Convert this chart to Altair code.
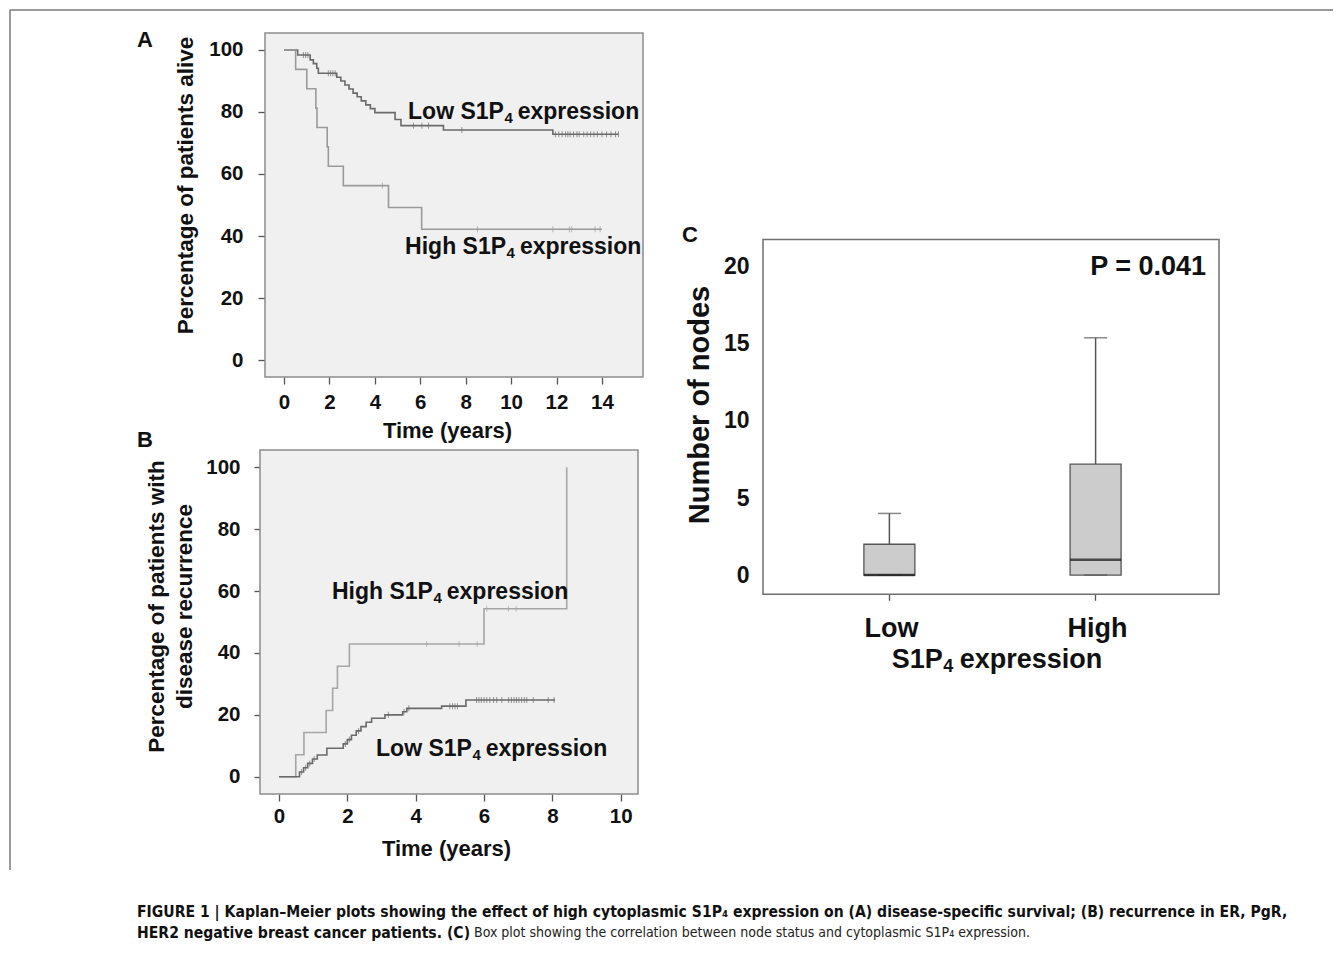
import altair as alt
import pandas as pd

W, H = 1325, 934
FONT = "Liberation Sans, Arial, Helvetica, sans-serif"
CAPFONT = "Liberation Sans Narrow, DejaVu Sans Condensed, Liberation Sans, sans-serif"
INK = "#111111"

# ---------------- Panel A : disease-specific survival ----------------
A_low_t = [0, 0.60, 1.15, 1.29, 1.44, 1.51, 2.32, 2.50, 2.68, 2.86, 3.04, 3.22, 3.40, 3.60, 3.80, 4.00, 4.89, 5.15, 7.02, 11.84, 14.73]
A_low_v = [100, 98.4, 96.8, 95.6, 94.1, 92.5, 91.2, 90.0, 88.7, 87.4, 86.1, 84.9, 83.6, 82.3, 81.1, 79.8, 77.6, 75.6, 74.2, 72.8, 72.8]
A_low_cens_t = [0.85, 0.95, 1.05, 1.95, 2.05, 2.15, 2.25, 5.70, 6.07, 6.36, 7.83,
                11.95, 12.1, 12.25, 12.4, 12.5, 12.6, 12.75, 12.9, 13.0, 13.2, 13.35, 13.5, 13.65, 13.8, 14.0, 14.2, 14.4, 14.6, 14.73]
A_low_cens_v = [98.4, 98.4, 98.4, 92.5, 92.5, 92.5, 92.5, 75.6, 75.6, 75.6, 74.2,
                72.8, 72.8, 72.8, 72.8, 72.8, 72.8, 72.8, 72.8, 72.8, 72.8, 72.8, 72.8, 72.8, 72.8, 72.8, 72.8, 72.8, 72.8, 72.8]
A_high_t = [0, 0.51, 1.00, 1.40, 1.45, 1.90, 1.95, 2.61, 4.60, 6.06, 14.0]
A_high_v = [100, 93.75, 87.5, 81.25, 75.0, 68.75, 62.5, 56.25, 49.2, 42.2, 42.2]
A_high_cens_t = [4.33, 8.52, 11.84, 12.57, 12.67, 13.70, 13.92]
A_high_cens_v = [56.25, 42.2, 42.2, 42.2, 42.2, 42.2, 42.2]
A_label_head = ["Low S1P", "High S1P"]
A_label_sub = ["4", "4"]
A_label_tail = ["expression", "expression"]
A_label_t = [5.46, 5.33]
A_label_v = [80.0, 36.5]
A_xticks = [0, 2, 4, 6, 8, 10, 12, 14]
A_yticks = [0, 20, 40, 60, 80, 100]
A_xdom = [-0.84, 15.81]
A_ydom = [-5.48, 105.48]

# ---------------- Panel B : recurrence ----------------
B_high_t = [0, 0.49, 0.73, 1.38, 1.57, 1.71, 2.06, 6.00, 8.42]
B_high_v = [0, 7.1, 14.3, 21.4, 28.6, 35.7, 42.9, 54.3, 100]
B_high_cens_t = [4.32, 5.27, 5.80, 6.08, 6.71, 6.94]
B_high_cens_v = [42.9, 42.9, 42.9, 54.3, 54.3, 54.3]
B_low_t = [0, 0.60, 0.72, 0.84, 0.98, 1.12, 1.40, 1.88, 2.00, 2.12, 2.26, 2.40, 2.55, 2.71, 3.10, 3.62, 3.74, 4.76, 5.47, 8.08]
B_low_v = [0, 1.5, 2.9, 4.3, 5.7, 7.0, 9.2, 10.6, 12.0, 13.4, 14.8, 16.2, 17.6, 18.9, 20.0, 21.0, 22.1, 22.8, 24.8, 24.8]
B_low_cens_t = [0.66, 0.78, 0.90, 1.03, 1.94, 2.06, 2.33, 3.20, 3.66, 3.80, 5.00, 5.08, 5.15, 5.22,
                5.78, 5.85, 5.92, 6.00, 6.08, 6.17, 6.28, 6.37, 6.52, 6.72, 6.80, 6.88, 6.95, 7.02, 7.10, 7.18, 7.25, 7.44, 7.88, 8.05]
B_low_cens_v = [1.5, 2.9, 4.3, 5.7, 10.6, 12.0, 14.8, 20.0, 21.0, 22.1, 22.8, 22.8, 22.8, 22.8,
                24.8, 24.8, 24.8, 24.8, 24.8, 24.8, 24.8, 24.8, 24.8, 24.8, 24.8, 24.8, 24.8, 24.8, 24.8, 24.8, 24.8, 24.8, 24.8, 24.8]
B_label_head = ["High S1P", "Low S1P"]
B_label_sub = ["4", "4"]
B_label_tail = ["expression", "expression"]
B_label_t = [1.55, 2.84]
B_label_v = [59.7, 9.0]
B_xticks = [0, 2, 4, 6, 8, 10]
B_yticks = [0, 20, 40, 60, 80, 100]
B_xdom = [-0.556, 10.506]
B_ydom = [-5.59, 105.6]

# ---------------- Panel C : box plot ----------------
C_groups = ["Low", "High"]
C_min = [0, 0]
C_q1 = [0, 0]
C_median = [0, 1]
C_q3 = [2, 7.2]
C_max = [4, 15.4]
C_yticks = [0, 5, 10, 15, 20]
C_ydom = [-1.25, 21.78]
C_pvalue = "P = 0.041"
C_xtitle = ("S1P", "4", "expression")

CAPTION_1 = ("FIGURE 1 | Kaplan\u2013Meier plots showing the effect of high cytoplasmic S1P\u2084 expression "
             "on (A) disease-specific survival; (B) recurrence in ER, PgR,")
CAPTION_2B = "HER2 negative breast cancer patients. (C)"
CAPTION_2R = "Box plot showing the correlation between node status and cytoplasmic S1P\u2084 expression."

# Arial/Liberation Sans Bold advance widths (em) for the label glyphs
_BOLD_EM = {"L": 0.611, "o": 0.611, "w": 0.778, " ": 0.278, "S": 0.667, "1": 0.556, "P": 0.667,
            "H": 0.722, "i": 0.278, "g": 0.611, "h": 0.611, "4": 0.556, "e": 0.556, "x": 0.556,
            "p": 0.611, "r": 0.389, "s": 0.556, "n": 0.611}
LBL_SIZE = 23
SUB_SIZE = 15


def text_w(s, size):
    return sum(_BOLD_EM.get(c, 0.6) for c in s) * size


def km_panel(xdom, xrange, ydom, yrange, xaxis, yaxis, series, labels, bg):
    xs = alt.Scale(domain=xdom, range=xrange, nice=False, zero=False)
    ys = alt.Scale(domain=ydom, range=yrange, nice=False, zero=False)

    def X(f):
        return alt.X(f, type="quantitative", scale=xs, axis=xaxis)

    def Y(f):
        return alt.Y(f, type="quantitative", scale=ys, axis=yaxis)

    frame = alt.Chart(pd.DataFrame({"x0": [xdom[0]], "x1": [xdom[1]], "y0": [ydom[0]], "y1": [ydom[1]]})).mark_rect(
        fill=bg, stroke="#8c8c8c", strokeWidth=1.5
    ).encode(x=X("x0"), x2="x1", y=Y("y0"), y2="y1")
    layers = [frame]
    for (t, v, ct, cv, color) in series:
        df = pd.DataFrame({"t": t, "v": v})
        layers.append(
            alt.Chart(df).mark_line(interpolate="step-after", color=color, strokeWidth=1.6).encode(
                x=X("t"), y=Y("v"), order="t:Q")
        )
        dfc = pd.DataFrame({"t": ct, "v": cv})
        layers.append(
            alt.Chart(dfc).mark_tick(orient="vertical", size=6, thickness=1, color=color).encode(
                x=X("t"), y=Y("v"))
        )
    lab_t, lab_v, heads, subs, tails = labels
    for t, v, hd, sb, tl in zip(lab_t, lab_v, heads, subs, tails):
        d = pd.DataFrame({"t": [t], "v": [v], "head": [hd], "sub": [sb], "tail": [tl]})
        w_head = text_w(hd, LBL_SIZE)
        w_sub = text_w(sb, SUB_SIZE)
        base = dict(align="left", baseline="middle", font=FONT, fontWeight="bold", color=INK)
        layers.append(alt.Chart(d).mark_text(fontSize=LBL_SIZE, **base).encode(
            x=X("t"), y=Y("v"), text="head:N"))
        layers.append(alt.Chart(d).mark_text(fontSize=SUB_SIZE, dx=w_head + 0.5, dy=6, **base).encode(
            x=X("t"), y=Y("v"), text="sub:N"))
        layers.append(alt.Chart(d).mark_text(fontSize=LBL_SIZE, dx=w_head + w_sub + 5.5, **base).encode(
            x=X("t"), y=Y("v"), text="tail:N"))
    return alt.layer(*layers)


def lin_axis(orient, offset, values, tick, pad, title, tx, ty, tsize=22, angle=0, lh=None):
    kw = dict(orient=orient, offset=offset, values=values, domain=False, grid=False, ticks=True,
              tickSize=tick, tickColor="#555555", tickWidth=1.3, labelFont=FONT, labelFontSize=20.5,
              labelFontWeight="bold", labelColor=INK, labelPadding=pad, labelFlush=False,
              labelOverlap=False, labelAngle=0, format="d", title=title, titleFont=FONT,
              titleFontSize=tsize, titleFontWeight="bold", titleColor=INK, titleX=tx, titleY=ty,
              titleAngle=angle, titleAlign="center", titleBaseline="middle")
    if lh is not None:
        kw["titleLineHeight"] = lh
    return alt.Axis(**kw)


# Panel A (chart coords = page - 8)
axA_x = lin_axis("bottom", 369 - H, A_xticks, 7, 8, "Time (years)", 439, 53)
axA_y = lin_axis("left", -257, A_yticks, 7, 15, "Percentage of patients alive", -80, 177, tsize=22.5, angle=270)
panelA = km_panel(A_xdom, [257, 635], A_ydom, [369, 25], axA_x, axA_y,
                  [(A_low_t, A_low_v, A_low_cens_t, A_low_cens_v, "#6a6a6a"),
                   (A_high_t, A_high_v, A_high_cens_t, A_high_cens_v, "#9a9a9a")],
                  (A_label_t, A_label_v, A_label_head, A_label_sub, A_label_tail), "#f0f0f0")

# Panel B
axB_x = lin_axis("bottom", 786 - H, B_xticks, 7, 5, "Time (years)", 438, 54)
axB_y = lin_axis("left", -252, B_yticks, 6, 14, ["Percentage of patients with", "disease recurrence"],
                 -104, 598, tsize=22.5, angle=270, lh=28)
panelB = km_panel(B_xdom, [252, 630], B_ydom, [786, 442], axB_x, axB_y,
                  [(B_high_t, B_high_v, B_high_cens_t, B_high_cens_v, "#a6a6a6"),
                   (B_low_t, B_low_v, B_low_cens_t, B_low_cens_v, "#6a6a6a")],
                  (B_label_t, B_label_v, B_label_head, B_label_sub, B_label_tail), "#f0f0f0")

# Panel C
xC = alt.Scale(type="band", domain=C_groups, range=[756.5, 1212.5], paddingInner=0.7527, paddingOuter=0.482)
yC = alt.Scale(domain=C_ydom, range=[586.3, 231.5], nice=False, zero=False)
axC_x = alt.Axis(orient="bottom", offset=586.3 - H, domain=False, grid=False, ticks=True, tickSize=6,
                 tickColor="#555555", tickWidth=1.3, labelFont=FONT, labelFontSize=27, labelFontWeight="bold",
                 labelColor=INK, labelPadding=15, labelAngle=0, labelOffset=2, title=None)
axC_y = alt.Axis(orient="left", offset=-755, values=C_yticks, domain=False, grid=False, ticks=False, tickSize=0,
                 labelFont=FONT, labelFontSize=23, labelFontWeight="bold", labelColor=INK, labelPadding=14,
                 labelFlush=False, labelOverlap=False, title="Number of nodes", titleFont=FONT, titleFontSize=29,
                 titleFontWeight="bold", titleColor=INK, titleX=-64, titleY=396.5, titleAngle=270,
                 titleAlign="center", titleBaseline="middle")
dfC = pd.DataFrame({"g": C_groups, "mn": C_min, "q1": C_q1, "med": C_median, "q3": C_q3, "mx": C_max})
XC = alt.X("g:N", scale=xC, axis=axC_x, sort=C_groups)


def YC(f):
    return alt.Y(f, type="quantitative", scale=yC, axis=axC_y)


frameC = alt.Chart(pd.DataFrame({"a": [0]})).mark_rect(fill="white", stroke="#707070", strokeWidth=1.5).encode(
    x=alt.value(755), x2=alt.value(1211), y=alt.value(231.5), y2=alt.value(586.3))
whisk = alt.Chart(dfC).mark_rule(color="#555555", strokeWidth=1.5).encode(x=XC, y=YC("q3"), y2="mx")
boxes = alt.Chart(dfC).mark_bar(fill="#cccccc", stroke="#555555", strokeWidth=1.3).encode(x=XC, y=YC("q1"), y2="q3")
caps_hi = alt.Chart(dfC).mark_tick(orient="horizontal", size=23, thickness=1.5, color="#555555").encode(x=XC, y=YC("mx"))
caps_lo = alt.Chart(dfC).mark_tick(orient="horizontal", size=23, thickness=1.5, color="#555555").encode(x=XC, y=YC("mn"))
medians = alt.Chart(dfC).mark_tick(orient="horizontal", size=51, thickness=2.5, color="#111111").encode(x=XC, y=YC("med"))
ptext = alt.Chart(pd.DataFrame({"label": [C_pvalue]})).mark_text(
    align="right", baseline="middle", font=FONT, fontSize=27, fontWeight="bold", color=INK
).encode(x=alt.value(1198), y=alt.value(259.3), text="label:N")

# x-axis title of panel C with a true subscript
CT_SIZE, CT_SUB = 27, 18
ct_w = text_w(C_xtitle[0], CT_SIZE) + text_w(C_xtitle[1], CT_SUB) + 7 + text_w(C_xtitle[2], CT_SIZE)
ct_x0 = 989 - ct_w / 2
ct_y = 652
ct_base = dict(align="left", baseline="middle", font=FONT, fontWeight="bold", color=INK)
ctitle = pd.DataFrame({"a": [C_xtitle[0]], "b": [C_xtitle[1]], "c": [C_xtitle[2]]})
ct1 = alt.Chart(ctitle).mark_text(fontSize=CT_SIZE, **ct_base).encode(
    x=alt.value(ct_x0), y=alt.value(ct_y), text="a:N")
ct2 = alt.Chart(ctitle).mark_text(fontSize=CT_SUB, dy=7, **ct_base).encode(
    x=alt.value(ct_x0 + text_w(C_xtitle[0], CT_SIZE) + 0.5), y=alt.value(ct_y), text="b:N")
ct3 = alt.Chart(ctitle).mark_text(fontSize=CT_SIZE, **ct_base).encode(
    x=alt.value(ct_x0 + text_w(C_xtitle[0], CT_SIZE) + text_w(C_xtitle[1], CT_SUB) + 7),
    y=alt.value(ct_y), text="c:N")
panelC = alt.layer(frameC, whisk, boxes, caps_lo, caps_hi, medians, ptext, ct1, ct2, ct3)

# Figure frame, panel letters, caption
one = pd.DataFrame({"a": [0]})
frame_left = alt.Chart(one).mark_rule(color="#7a7a7a", strokeWidth=1.5).encode(
    x=alt.value(2), y=alt.value(2), y2=alt.value(862))
frame_top = alt.Chart(one).mark_rule(color="#7a7a7a", strokeWidth=1.5).encode(
    x=alt.value(2), x2=alt.value(W), y=alt.value(2))
letters = alt.Chart(pd.DataFrame({"L": ["A", "B", "C"], "px": [137, 137, 682], "py": [32, 432, 227]})).mark_text(
    font=FONT, fontSize=22, fontWeight="bold", color=INK, align="center", baseline="middle"
).encode(x=alt.X("px:Q", scale=None), y=alt.Y("py:Q", scale=None), text="L:N")
cap1 = alt.Chart(pd.DataFrame({"s": [CAPTION_1]})).mark_text(
    font=CAPFONT, fontSize=15.6, fontWeight="bold", color=INK, align="left", baseline="middle"
).encode(x=alt.value(129), y=alt.value(904), text="s:N")
cap2b = alt.Chart(pd.DataFrame({"s": [CAPTION_2B]})).mark_text(
    font=CAPFONT, fontSize=15.6, fontWeight="bold", color=INK, align="left", baseline="middle"
).encode(x=alt.value(129), y=alt.value(925), text="s:N")
cap2r = alt.Chart(pd.DataFrame({"s": [CAPTION_2R]})).mark_text(
    font=CAPFONT, fontSize=14, fontWeight="normal", color="#222222", align="left", baseline="middle"
).encode(x=alt.value(466), y=alt.value(925), text="s:N")

chart = alt.layer(
    frame_left, frame_top, panelA, panelB, panelC, letters, cap1, cap2b, cap2r
).resolve_scale(x="independent", y="independent").properties(
    width=W, height=H, padding=0, autosize=alt.AutoSizeParams(type="none"), background="white"
).configure_view(strokeWidth=0)

chart.save("out.html", embed_options={"renderer": "svg", "actions": False})
